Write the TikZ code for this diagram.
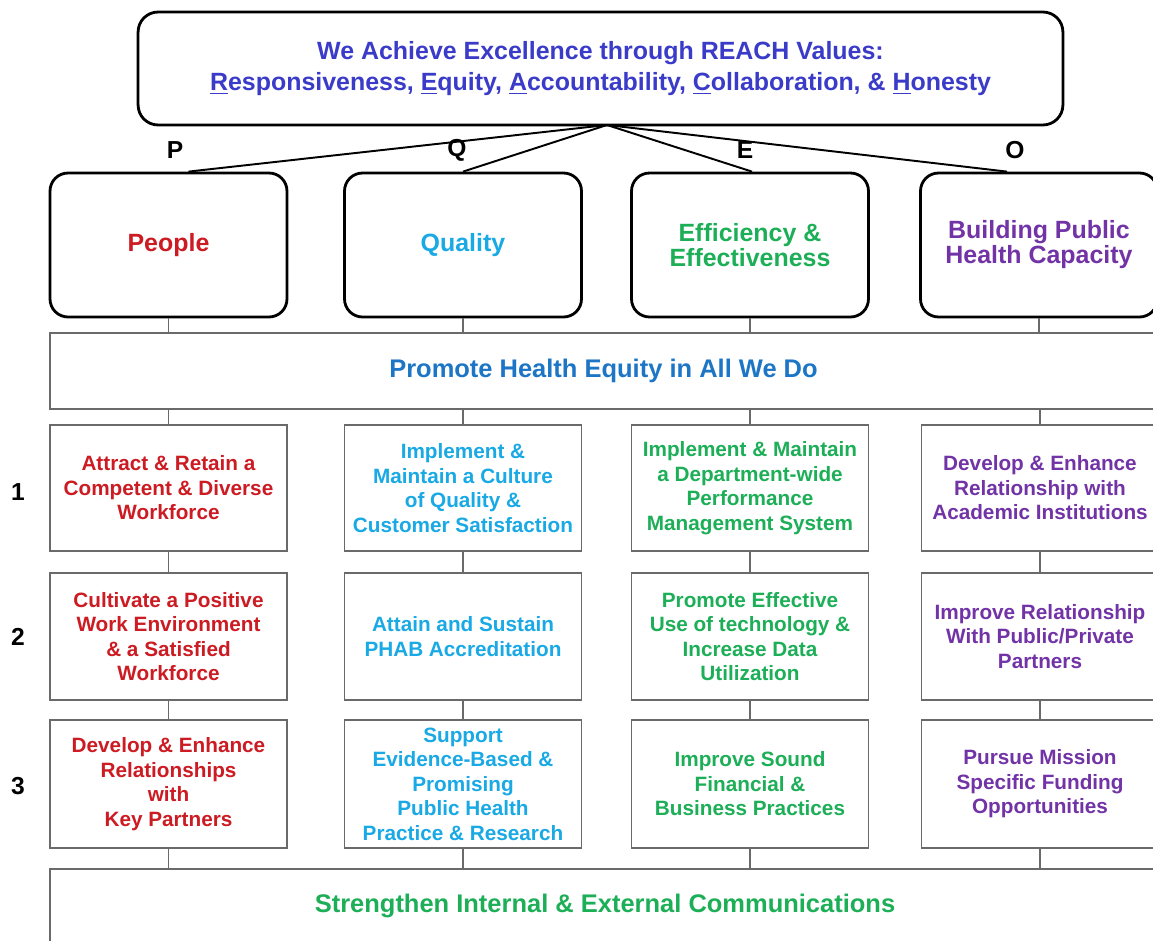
\documentclass[tikz,border=0pt]{standalone}
\usepackage{fontspec}
\setmainfont{Liberation Sans}
\definecolor{topblue}{HTML}{3B3BC9}
\definecolor{pred}{HTML}{CC1B22}
\definecolor{qcyan}{HTML}{19A9E4}
\definecolor{egreen}{HTML}{1DAF57}
\definecolor{opurple}{HTML}{7233A6}
\definecolor{hblue}{HTML}{1D75C6}
\definecolor{boxgray}{HTML}{6A6A6A}
\begin{document}
\begin{tikzpicture}[x=0.02cm,y=-0.02cm,
  topbox/.style={draw=black, line width=1.6pt, rounded corners=0.4cm, minimum width=18.5cm, minimum height=2.26cm, align=center, font=\fontsize{14.2}{17.6}\selectfont\bfseries, text=topblue, inner sep=0pt},
  pillar/.style={draw=black, line width=1.6pt, rounded corners=0.36cm, minimum width=4.74cm, minimum height=2.88cm, align=center, font=\fontsize{14.2}{14.2}\selectfont\bfseries, inner sep=0pt},
  goal/.style={draw=boxgray, line width=1pt, minimum width=4.74cm, align=center, font=\fontsize{11.8}{13.94}\selectfont\bfseries, inner sep=0pt},
  band/.style={draw=boxgray, line width=1pt, align=center, font=\fontsize{14.5}{17}\selectfont\bfseries, inner sep=0pt},
  link/.style={draw=boxgray, line width=0.9pt},
  spoke/.style={draw=black, line width=1.1pt},
  lab/.style={font=\fontsize{14}{16}\selectfont\bfseries, text=black}
]
\useasboundingbox (0,0) rectangle (1153,940);
\clip (0,0) rectangle (1153,940);
\fill[white] (0,0) rectangle (1153,940);

% top box
\node[topbox] (top) at (600.5,68.5) {We Achieve Excellence through REACH Values:\\
\underline{R}esponsiveness, \underline{E}quity, \underline{A}ccountability, \underline{C}ollaboration, \& \underline{H}onesty};
\coordinate (apex) at (607,125);

% pillars
\node[pillar, text=pred] (people) at (168.5,245) {People};
\node[pillar, text=qcyan] (quality) at (463,245) {Quality};
\node[pillar, text=egreen] (eff) at (750,245) {Efficiency \&\\Effectiveness};
\node[pillar, text=opurple] (cap) at (1039,245) {Building Public\\Health Capacity};

% spokes
\draw[spoke] (apex) -- ([xshift=0.4cm]people.north);
\draw[spoke] (apex) -- (quality.north);
\draw[spoke] (apex) -- ([xshift=0.04cm]eff.north);
\draw[spoke] (apex) -- ([xshift=-0.64cm]cap.north);

% letters
\node[lab] (lp) at (175,150) {P};
\node[lab] (lq) at (457,150) {Q};
\node[lab] (le) at (745,150) {E};
\node[lab] (lo) at (1015,150) {O};

% bands
\node[band, text=hblue, minimum width=22.14cm, minimum height=1.52cm] (equity) at (603.5,371) {Promote Health Equity in All We Do};
\node[band, text=egreen, minimum width=22.2cm, minimum height=1.46cm] (comm) at (605,905.5) {Strengthen Internal \& External Communications};

% row labels
\node[lab] (r1) at (18,492) {1};
\node[lab] (r2) at (18,637) {2};
\node[lab] (r3) at (18,786) {3};

% goals column 1
\node[goal, text=pred, minimum height=2.52cm] (g11) at (168.5,488) {Attract \& Retain a\\Competent \& Diverse\\Workforce};
\node[goal, text=pred, minimum height=2.54cm] (g12) at (168.5,636.5) {Cultivate a Positive\\Work Environment\\\& a Satisfied\\Workforce};
\node[goal, text=pred, minimum height=2.56cm] (g13) at (168.5,784) {Develop \& Enhance\\Relationships\\with\\Key Partners};
% column 2
\node[goal, text=qcyan, minimum height=2.52cm] (g21) at (463,488) {Implement \&\\Maintain a Culture\\of Quality \&\\Customer Satisfaction};
\node[goal, text=qcyan, minimum height=2.54cm] (g22) at (463,636.5) {Attain and Sustain\\PHAB Accreditation};
\node[goal, text=qcyan, minimum height=2.56cm] (g23) at (463,784) {Support\\Evidence-Based \&\\Promising\\Public Health\\Practice \& Research};
% column 3
\node[goal, text=egreen, minimum height=2.52cm] (g31) at (750,488) {Implement \& Maintain\\a Department-wide\\Performance\\Management System};
\node[goal, text=egreen, minimum height=2.54cm] (g32) at (750,636.5) {Promote Effective\\Use of technology \&\\Increase Data\\Utilization};
\node[goal, text=egreen, minimum height=2.56cm] (g33) at (750,784) {Improve Sound\\Financial \&\\Business Practices};
% column 4
\node[goal, text=opurple, minimum height=2.52cm] (g41) at (1040,488) {Develop \& Enhance\\Relationship with\\Academic Institutions};
\node[goal, text=opurple, minimum height=2.54cm] (g42) at (1040,636.5) {Improve Relationship\\With Public/Private\\Partners};
\node[goal, text=opurple, minimum height=2.56cm] (g43) at (1040,784) {Pursue Mission\\Specific Funding\\Opportunities};

% connectors
\foreach \p/\a/\b/\c in {people/g11/g12/g13, quality/g21/g22/g23, eff/g31/g32/g33, cap/g41/g42/g43}{
  \draw[link] (\p.south) -- (\p.south |- equity.north);
  \draw[link] (\a.north |- equity.south) -- (\a.north);
  \draw[link] (\a.south) -- (\b.north);
  \draw[link] (\b.south) -- (\c.north);
  \draw[link] (\c.south) -- (\c.south |- comm.north);
}
\end{tikzpicture}
\end{document}
